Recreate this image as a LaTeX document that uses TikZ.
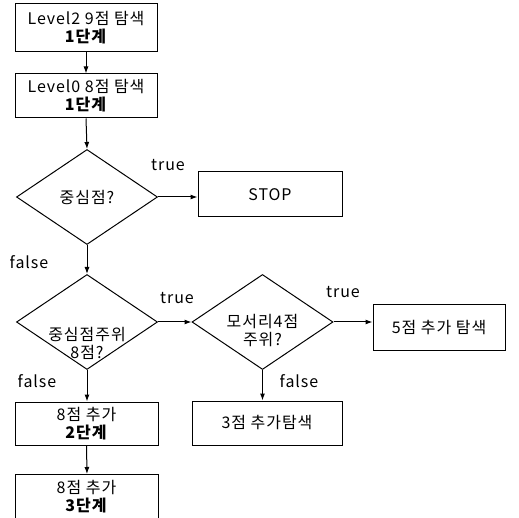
\documentclass[tikz,border=0pt]{standalone}
\usepackage{fontspec}
\setmainfont{Noto Sans CJK KR}[LetterSpace=6]
\usetikzlibrary{shapes.geometric,arrows.meta}
\begin{document}
\begin{tikzpicture}[x=1pt,y=-1pt,
  every node/.style={font=\fontsize{16}{18}\selectfont},
  box/.style={draw,line width=1pt,minimum width=#1,inner sep=0pt,align=center},
  dia/.style={draw,line width=1pt,diamond,aspect=1.48,minimum width=141pt,minimum height=95pt,inner sep=0pt},
  txt/.style={align=center,inner sep=0pt},
  lbl/.style={inner sep=0pt},
  arr/.style={draw,line width=1pt,-{Latex[length=7pt,width=5pt]}}
]
\useasboundingbox (0,0) rectangle (519,518);
\node[box=142pt,minimum height=48pt] (b1) at (86,28) {Level2 9점 탐색\\\textbf{1단계}};
\node[box=142pt,minimum height=44pt] (b2) at (86,96) {Level0 8점 탐색\\\textbf{1단계}};
\node[dia] (d1) at (87,197) {};
\node[txt] (t1) at (87,197) {중심점?};
\node[box=144pt,minimum height=45pt] (stop) at (270,194.5) {STOP};
\node[dia] (d2) at (87,322) {};
\node[txt] (t2) at (87,343) {중심점주위\\8점?};
\node[dia] (d3) at (262.5,322) {};
\node[txt] (t3) at (262.5,331) {모서리4점\\주위?};
\node[box=132pt,minimum height=45pt] (b5) at (439,327.5) {5점 추가 탐색};
\node[box=143pt,minimum height=43pt] (b82) at (86.5,423.5) {8점 추가\\\textbf{2단계}};
\node[box=150pt,minimum height=44pt] (b3) at (267,423) {3점 추가탐색};
\draw[line width=1pt] (15,518) |- (158,474) -- (158,518);
\coordinate (b83n) at (87,474);
\node[txt] (t83) at (86.5,497) {8점 추가\\\textbf{3단계}};
\node[lbl] (l1) at (168,165) {true};
\node[lbl] (l2) at (29,262) {false};
\node[lbl] (l3) at (177,298) {true};
\node[lbl] (l4) at (343,292) {true};
\node[lbl] (l5) at (37,381) {false};
\node[lbl] (l6) at (299,381) {false};
\path[arr] (b1.south) -- (b2.north);
\path[arr] (b2.south) -- (d1.north);
\path[arr] (d1.east) -- (d1.east -| stop.west);
\path[arr] (d1.south) -- (d2.north);
\path[arr] (d2.east) -- (d3.west);
\path[arr] (d3.east) -- (b5.west |- d3.east);
\path[arr] (d2.south) -- (d2.south |- b82.north);
\path[arr] (d3.south) -- (d3.south |- b3.north);
\path[arr] (b82.south) -- (b83n);
\end{tikzpicture}
\end{document}
